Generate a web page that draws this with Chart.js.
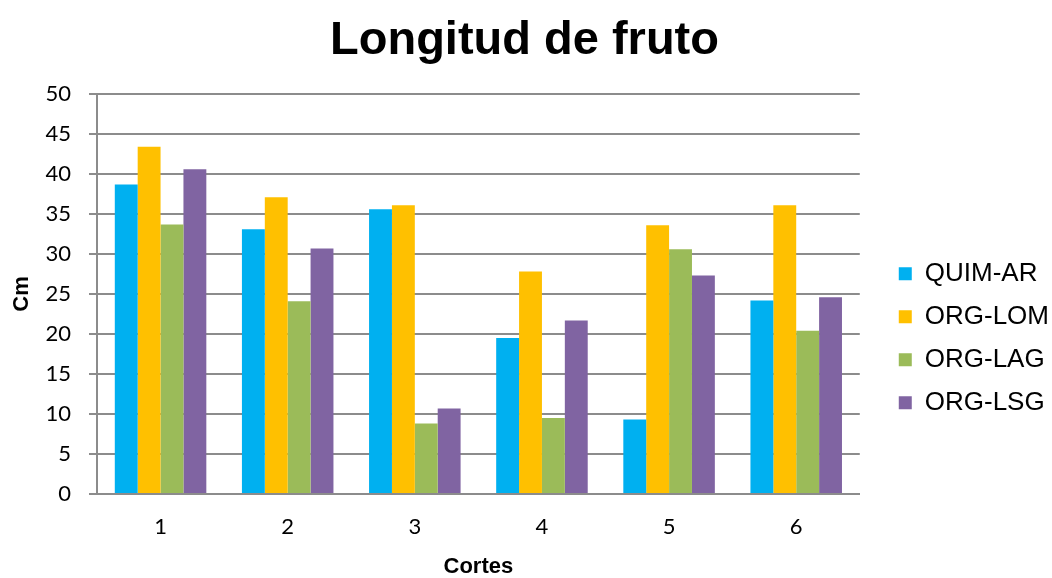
<!DOCTYPE html>
<html>
<head>
<meta charset="utf-8">
<script src="https://cdn.jsdelivr.net/npm/chart.js@4"></script>
<style>
  html, body { margin: 0; padding: 0; background: #fff; }
  #wrap { width: 1052px; height: 578px; }
</style>
</head>
<body>
<div id="wrap"><canvas id="chart" width="1052" height="578"></canvas></div>
<script>
const cortes = ["1", "2", "3", "4", "5", "6"];
const quimAR = [38.7, 33.1, 35.6, 19.5, 9.3, 24.2];
const orgLOM = [43.4, 37.1, 36.1, 27.8, 33.6, 36.1];
const orgLAG = [33.7, 24.1, 8.8, 9.5, 30.6, 20.4];
const orgLSG = [40.6, 30.7, 10.7, 21.7, 27.3, 24.6];

const gridGray = "#8c8c8c";
const padL = -10;

new Chart(document.getElementById("chart"), {
  type: "bar",
  data: {
    labels: cortes,
    datasets: [
      { label: "QUIM-AR", data: quimAR, backgroundColor: "#00b0f0" },
      { label: "ORG-LOM", data: orgLOM, backgroundColor: "#ffc000" },
      { label: "ORG-LAG", data: orgLAG, backgroundColor: "#9bbb59" },
      { label: "ORG-LSG", data: orgLSG, backgroundColor: "#8064a2" }
    ]
  },
  options: {
    responsive: false,
    animation: false,
    layout: { padding: { top: 6, right: -7, bottom: 0, left: padL } },
    datasets: { bar: { categoryPercentage: 0.72, barPercentage: 1.0 } },
    plugins: {
      title: {
        display: true,
        text: "Longitud de fruto",
        color: "#000",
        font: { family: "Liberation Sans", size: 47, weight: "bold" },
        padding: { top: 7, bottom: 24.6 }
      },
      legend: {
        position: "right",
        // blank title just pushes the legend items down a bit
        title: { display: true, text: " ", font: { size: 12 }, padding: { top: 78, bottom: 0 } },
        labels: {
          color: "#000",
          font: { family: "Liberation Sans", size: 26 },
          boxWidth: 13,
          boxHeight: 13,
          padding: 17
        }
      },
      tooltip: { enabled: false }
    },
    scales: {
      x: {
        grid: { display: false },
        border: { color: gridGray, width: 2 },
        ticks: { color: "#000", font: { family: "Lato", size: 22 }, padding: 12 },
        title: {
          display: true,
          text: "Cortes",
          color: "#000",
          font: { family: "Liberation Sans", size: 22, weight: "bold", lineHeight: 1 },
          padding: { top: 0, bottom: 0 }
        },
        afterFit: (s) => { s.height = 84; }
      },
      y: {
        min: 0,
        max: 50,
        ticks: { stepSize: 5, color: "#000", font: { family: "Lato", size: 22 }, padding: 18 },
        grid: { color: gridGray, lineWidth: 2, tickLength: 8 },
        border: { color: gridGray, width: 2 },
        title: {
          display: true,
          text: "Cm",
          color: "#000",
          font: { family: "Liberation Sans", size: 22, weight: "bold" },
          padding: { top: 19, bottom: 0 }
        },
        afterFit: (s) => { s.width = 97 - padL; }
      },
      // empty spacer between the plot and the legend
      gap: {
        position: "right",
        display: true,
        grid: { display: false },
        border: { display: false },
        ticks: { display: false },
        afterFit: (s) => { s.width = 22; }
      }
    }
  }
});
</script>
</body>
</html>
